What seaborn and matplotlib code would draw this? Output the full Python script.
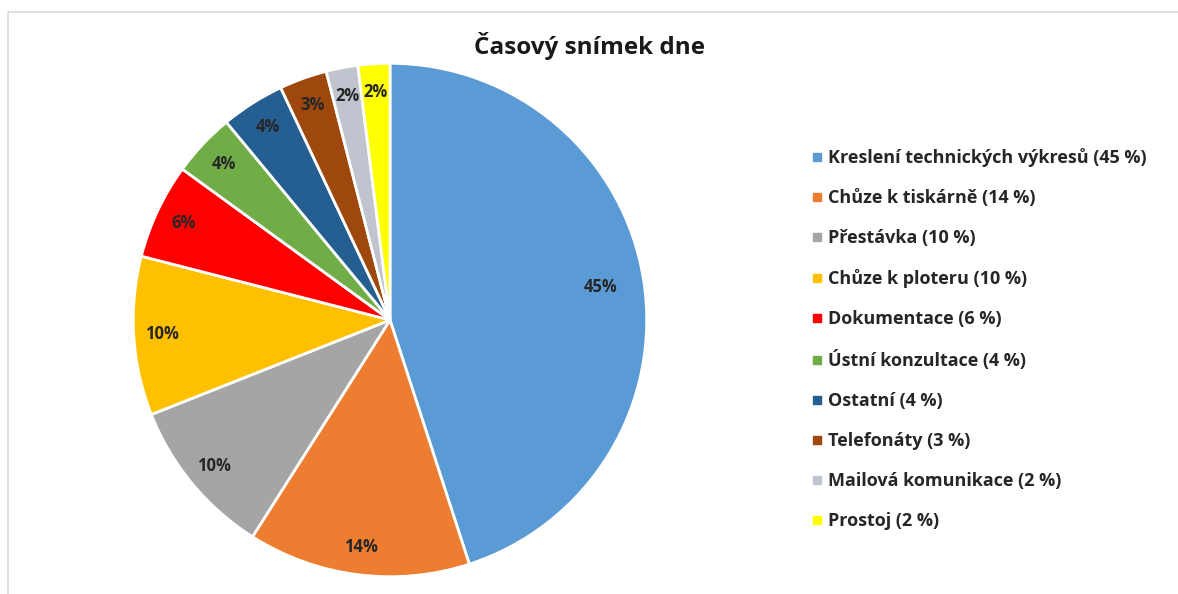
import matplotlib
matplotlib.use("Agg")
import matplotlib.pyplot as plt
import seaborn as sns
from matplotlib.lines import Line2D
from matplotlib.patches import Rectangle

categories = ["Kreslení technických výkresů", "Chůze k tiskárně", "Přestávka",
              "Chůze k ploteru", "Dokumentace", "Ústní konzultace", "Ostatní",
              "Telefonáty", "Mailová komunikace", "Prostoj"]
values = [45, 14, 10, 10, 6, 4, 4, 3, 2, 2]
colors = ["#5B9BD5", "#ED7D31", "#A5A5A5", "#FFC000", "#FF0000", "#70AD47",
          "#255E91", "#9E480E", "#C0C4CE", "#FFFF00"]
title = "Časový snímek dne"

sns.set_theme(style="white")
plt.rcParams['font.family'] = ['Open Sans', 'DejaVu Sans']

fig = plt.figure(figsize=(11.78, 5.94), dpi=100)
fig.patch.set_facecolor("white")
# chart frame
fig.add_artist(Rectangle((8/1178, -0.05), 1.1, (594-12)/594 + 0.05, transform=fig.transFigure,
                         fill=False, edgecolor="#D9D9D9", linewidth=1.2))

ax = fig.add_axes([132/1178, 16/594, 516/1178, 516/594])
wedges, texts, autotexts = ax.pie(
    values, colors=colors, startangle=90, counterclock=False,
    autopct=lambda p: f"{p:.0f}%", pctdistance=0.89,
    wedgeprops=dict(edgecolor="white", linewidth=2),
    textprops=dict(fontsize=12, fontweight="bold", color="#262626"))
x0, y0 = autotexts[0].get_position()
autotexts[0].set_position((x0 * 0.83 / 0.89, y0 * 0.83 / 0.89))
ax.set_xlim(-1.005, 1.005)
ax.set_ylim(-1.005, 1.005)
ax.set_aspect("equal")

fig.text(590/1178, 1 - 46/594, title, ha="center", va="center",
         fontsize=17.5, fontweight="bold", color="#1a1a1a")

handles = [Line2D([0], [0], marker="s", linestyle="", markersize=6,
                  markerfacecolor=c, markeredgecolor=c) for c in colors]
labels = [f"{c} ({v} %)" for c, v in zip(categories, values)]
leg = fig.legend(handles, labels, loc="upper left",
                 bbox_to_anchor=(795/1178, 1 - 132/594), frameon=False,
                 handlelength=0.6, handletextpad=0.35, labelspacing=1.22,
                 prop=dict(size=13, weight="bold"))
for t in leg.get_texts():
    t.set_color("#262626")

fig.savefig("out.png", dpi=100, facecolor="white")
